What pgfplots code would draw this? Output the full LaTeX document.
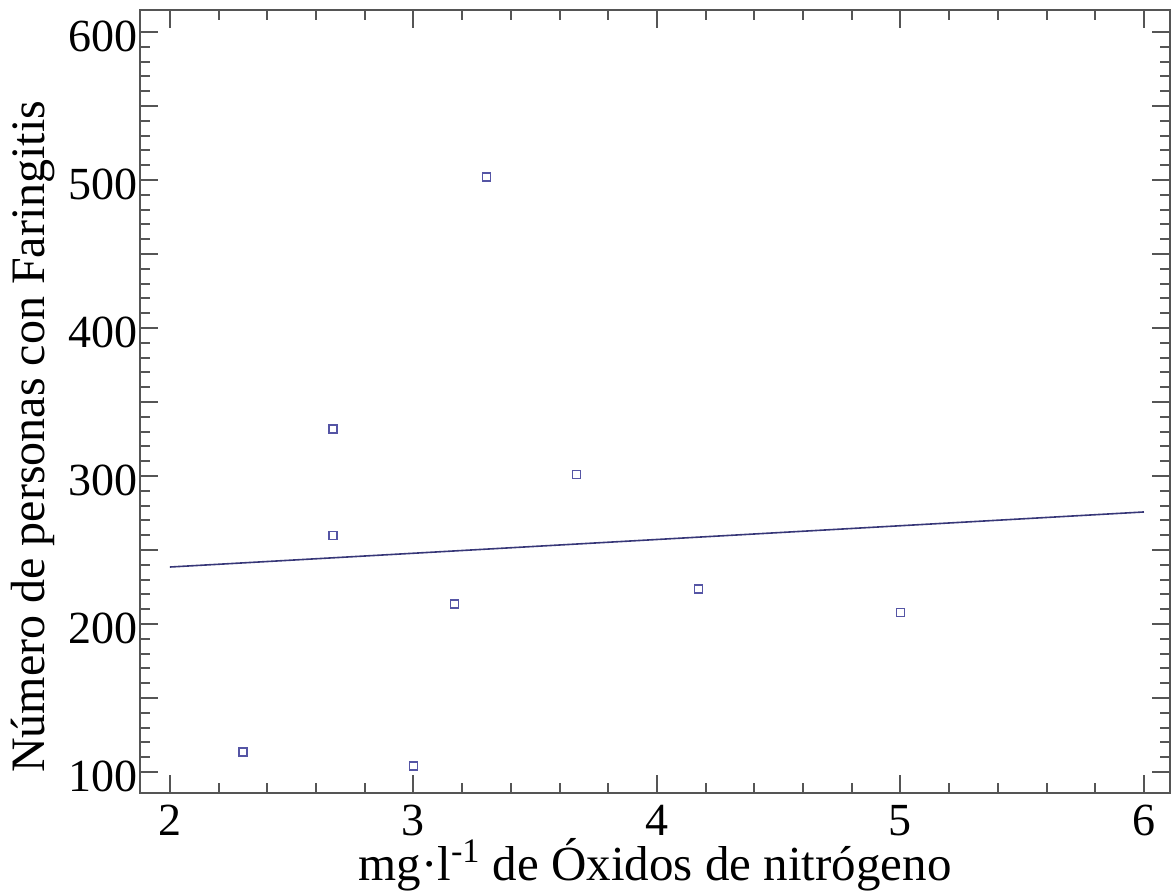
\documentclass[border=0pt]{standalone}
\usepackage{fontspec}
\setmainfont{Liberation Serif}
\usepackage{pgfplots}
\pgfplotsset{compat=1.18}
\usetikzlibrary{calc}
\definecolor{markc}{RGB}{85,85,165}
\definecolor{linec}{RGB}{55,55,120}
\definecolor{axc}{RGB}{85,85,85}
\begin{document}
\begin{tikzpicture}
\begin{axis}[name=ax, scale only axis, width=515pt, height=391.5pt,
  xmin=1.877, xmax=6.107, ymin=85.8, ymax=614.9,
  xtick={2,3,4,5,6}, minor x tick num=4,
  ytick={100,150,...,600}, yticklabels={100,,200,,300,,400,,500,,600}, minor y tick num=4,
  tick align=inside, major tick length=9pt, minor tick length=5pt,
  axis line style={axc, line width=1pt},
  every tick/.style={axc, line width=1pt},
  /pgf/number format/assume math mode=true,
  ticklabel style={font=\fontsize{23}{27}\selectfont},
  xticklabel style={inner ysep=0pt, yshift=-6pt},
  yticklabel style={inner xsep=1pt, yshift=-2pt},
  every axis x label/.style={at={(rel axis cs:0.5,0)}, anchor=center, yshift=-36pt, font=\fontsize{24.5}{28}\selectfont},
  every axis y label/.style={at={(rel axis cs:0,0.455)}, anchor=center, xshift=-53.5pt, rotate=90, font=\fontsize{24}{28}\selectfont},
  xlabel={mg·l\textsuperscript{-1} de Óxidos de nitrógeno},
  ylabel={Número de personas con Faringitis},
]
\addplot[only marks, mark=square, mark size=2pt, mark options={draw=markc, line width=0.6pt}] coordinates {
(2.30,113.5) (2.67,331.8) (2.67,260) (3.00,104) (3.17,213.5) (3.30,502) (3.67,301) (4.17,223.6) (5.00,207.5)
};
\addplot[linec, line width=0.8pt] coordinates {(2,238.5) (6,275.7)};
\end{axis}
\pgfresetboundingbox
\path[use as bounding box] ($(ax.south west)+(-70pt,-49.5pt)$) rectangle ($(ax.north east)+(1pt,5pt)$);
\end{tikzpicture}
\end{document}
